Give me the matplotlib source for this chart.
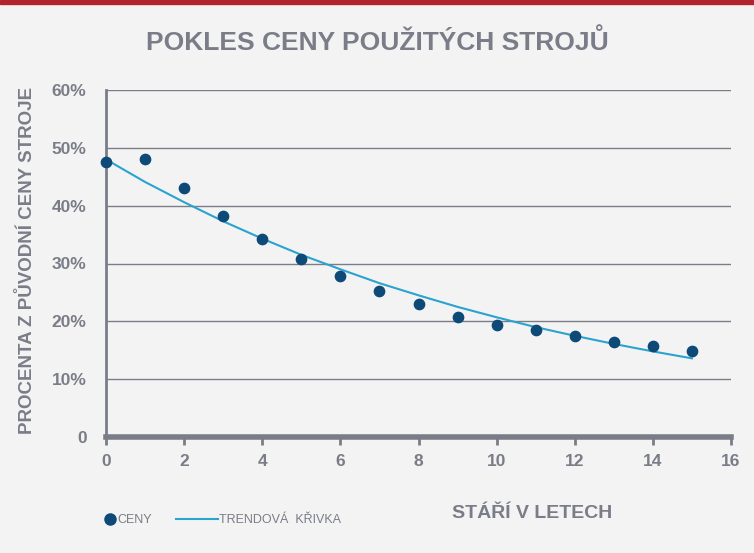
import matplotlib
matplotlib.use("Agg")
import matplotlib.pyplot as plt
from matplotlib.lines import Line2D

_BG = "#f4f3f3"
_GRAY = "#7a7d88"
_DOT = "#0d4a78"
_TREND = "#2aa3cf"

years = [0, 1, 2, 3, 4, 5, 6, 7, 8, 9, 10, 11, 12, 13, 14, 15]
prices = [47.6, 48.1, 43.1, 38.2, 34.3, 30.8, 27.9, 25.3, 23.0, 20.8, 19.4,
          18.5, 17.5, 16.4, 15.7, 14.9]
trend = [48.0, 44.1, 40.6, 37.3, 34.3, 31.5, 29.0, 26.6, 24.5, 22.5, 20.7,
         19.0, 17.5, 16.1, 14.8, 13.6]
xticks = [0, 2, 4, 6, 8, 10, 12, 14, 16]
yticks = [0, 10, 20, 30, 40, 50, 60]
ylabels = ["0", "10%", "20%", "30%", "40%", "50%", "60%"]

plt.rcParams["font.family"] = "Liberation Sans"
fig = plt.figure(figsize=(7.54, 5.53), dpi=100, facecolor=_BG)
ax = fig.add_axes([106 / 754, 1 - 437 / 553, 625 / 754, 347 / 553])
ax.set_facecolor(_BG)

fig.add_artist(plt.Rectangle((0, 1 - 4 / 553), 1, 4 / 553, color="#b0252d",
                             transform=fig.transFigure))

ax.plot(years, trend, color=_TREND, lw=1.5, zorder=2)
ax.scatter(years, prices, s=55, color=_DOT, zorder=3, clip_on=False)

ax.set_xlim(0, 16)
ax.set_ylim(0, 60)
ax.set_xticks(xticks)
ax.set_yticks(yticks)
ax.set_yticklabels(ylabels)
ax.tick_params(axis="x", colors=_GRAY, labelsize=12.5, length=6, width=2, pad=6)
ax.tick_params(axis="y", colors=_GRAY, labelsize=12.5, length=0, pad=14)
for lab in ax.get_xticklabels() + ax.get_yticklabels():
    lab.set_fontweight("bold")
for y in yticks[1:]:
    ax.axhline(y, color=_GRAY, lw=1, zorder=1)
for s in ["top", "right"]:
    ax.spines[s].set_visible(False)
ax.spines["bottom"].set_color(_GRAY)
ax.spines["bottom"].set_linewidth(4)
ax.spines["left"].set_color(_GRAY)
ax.spines["left"].set_linewidth(2)

title = fig.text(0.5, 1 - 42 / 553, "POKLES CENY POUŽITÝCH STROJŮ", ha="center",
                 va="center", color=_GRAY, fontsize=19, fontweight="bold")
fig.text(0.036, 1 - 260 / 553, "PROCENTA Z PŮVODNÍ CENY STROJE", rotation=90,
         ha="center", va="center", color=_GRAY, fontsize=13.5, fontweight="bold")
fig.text(532 / 754, 1 - 514 / 553, "STÁŘÍ V LETECH", ha="center", va="center",
         color=_GRAY, fontsize=14, fontweight="bold")

dot = Line2D([], [], marker="o", ls="", color=_DOT, markersize=8, label="CENY")
line = Line2D([], [], color=_TREND, lw=1.5, label="TRENDOVÁ  KŘIVKA")
leg1 = fig.legend(handles=[dot], loc="center left",
                  bbox_to_anchor=(92 / 754, 1 - 520 / 553), frameon=False,
                  handlelength=1.0, handletextpad=0.1, fontsize=9)
leg2 = fig.legend(handles=[line], loc="center left",
                  bbox_to_anchor=(165 / 754, 1 - 520 / 553), frameon=False,
                  handlelength=3.3, handletextpad=0.1, fontsize=9)
for leg in (leg1, leg2):
    for t in leg.get_texts():
        t.set_color(_GRAY)

fig.savefig("out.png", dpi=100, facecolor=_BG)
